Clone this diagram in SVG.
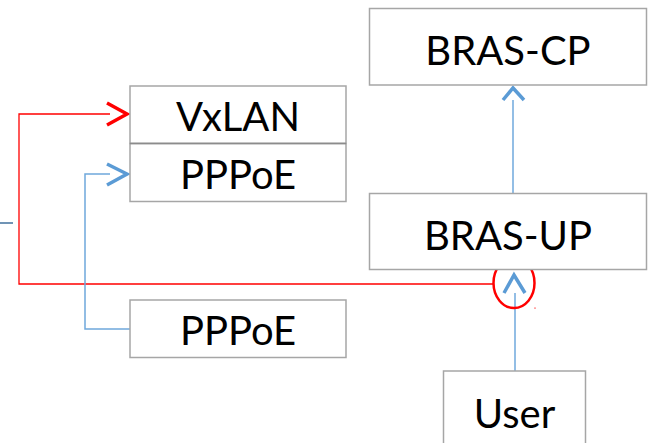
<svg xmlns="http://www.w3.org/2000/svg" width="648" height="443" viewBox="0 0 648 443">
<style>
.box{fill:#fff;stroke:#a6a6a6;stroke-width:1.5}
.t{font-family:Lato,"Open Sans",sans-serif;font-size:40px;fill:#000;text-anchor:middle}
.bl{fill:none;stroke:#6fa8dc;stroke-width:1.5}
.bch{fill:none;stroke:#5b9bd5;stroke-width:3.5}
.rl{fill:none;stroke:#ff0000;stroke-width:1.3}
.rch{fill:none;stroke:#ff0000;stroke-width:3.5}
</style>
<rect width="648" height="443" fill="#fff"/>
<g id="connectors">
<path class="bl" d="M513 100V193"/>
<path class="bch" d="M503 100L513 88L524 100"/>
<path class="bl" d="M515 293V371"/>
<path class="bch" d="M504 293L514 275L525 293"/>
<path class="rl" d="M493 284H19V114H110"/>
<path class="rch" d="M107 103L127 114L107 125"/>
<path class="bl" d="M130 329H85V174H110"/>
<path class="bch" d="M107 164L127 174L107 185"/>
<path d="M0 223H13" stroke="#41719c" stroke-width="1.5"/>
<ellipse cx="514" cy="283" rx="20.5" ry="25" fill="none" stroke="#ff0000" stroke-width="2.5"/>
<rect x="493.5" y="257.5" width="1" height="1.2" fill="#ff0000"/>
<rect x="534.5" y="307.5" width="1" height="1.2" fill="#ff0000"/>
</g>
<g id="bras-cp"><rect class="box" x="369.5" y="8.5" width="277" height="76.5"/><text class="t" x="508" y="65">BRAS-CP</text></g>
<g id="bras-up"><rect class="box" x="369.5" y="193.5" width="277" height="76"/><text class="t" x="508" y="250">BRAS-UP</text></g>
<g id="vxlan"><rect class="box" x="130" y="86" width="216" height="57.5"/><text class="t" x="238" y="131">VxLAN</text></g>
<g id="pppoe-top"><rect class="box" x="130" y="143.5" width="216" height="58"/><line x1="130" y1="143.5" x2="346" y2="143.5" stroke="#8c8c8c" stroke-width="1.5"/><text class="t" x="238" y="189">PPPoE</text></g>
<g id="pppoe-bottom"><rect class="box" x="130" y="300" width="216" height="57.5"/><text class="t" x="238" y="345">PPPoE</text></g>
<g id="user"><rect class="box" x="443.5" y="371" width="142" height="80"/><text class="t" x="514.5" y="428">User</text></g>
</svg>
